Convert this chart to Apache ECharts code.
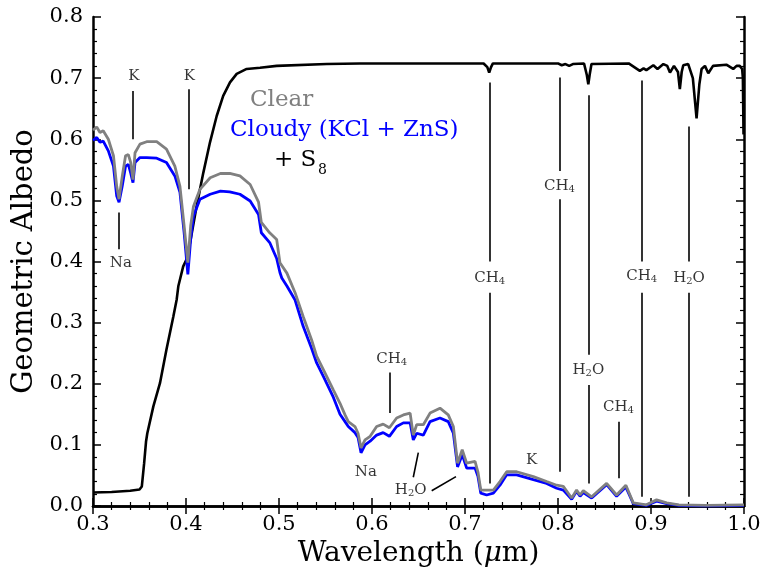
<!DOCTYPE html>
<html>
<head>
<meta charset="utf-8">
<script src="https://cdn.jsdelivr.net/npm/echarts@6/dist/echarts.min.js"></script>
<style>html,body{margin:0;padding:0;background:#fff}#c{width:767px;height:573px}</style>
</head>
<body>
<div id="c"></div>
<script>
// ---- data ----
var waveCloud = [0.300,0.304,0.3075,0.311,0.3165,0.322,0.3255,0.328,0.3315,0.335,0.338,0.3405,0.343,0.3452,0.3505,0.3577,0.3685,0.379,0.388,0.3935,0.398,0.402,0.405,0.408,0.415,0.426,0.437,0.447,0.458,0.469,0.478,0.481,0.490,0.4975,0.501,0.503,0.5085,0.5173,0.526,0.535,0.5405,0.5477,0.5584,0.5656,0.571,0.5745,0.5817,0.585,0.5882,0.5925,0.598,0.605,0.612,0.6187,0.6265,0.6337,0.641,0.6444,0.648,0.6552,0.6624,0.6731,0.682,0.6875,0.692,0.697,0.7018,0.7108,0.714,0.717,0.7233,0.7305,0.7376,0.7448,0.7556,0.7735,0.7878,0.7986,0.8057,0.8147,0.820,0.8237,0.8272,0.8362,0.8523,0.863,0.873,0.881,0.8828,0.895,0.906,0.9168,0.930,0.960,1.000];
var albedoClear = [0.615,0.620,0.611,0.614,0.600,0.573,0.523,0.502,0.540,0.573,0.575,0.562,0.534,0.578,0.592,0.596,0.596,0.584,0.556,0.523,0.458,0.398,0.458,0.490,0.518,0.537,0.544,0.544,0.540,0.526,0.497,0.464,0.447,0.436,0.398,0.395,0.381,0.349,0.310,0.272,0.245,0.223,0.190,0.168,0.149,0.138,0.130,0.119,0.095,0.108,0.114,0.130,0.134,0.128,0.144,0.149,0.152,0.116,0.133,0.133,0.152,0.160,0.149,0.130,0.070,0.092,0.070,0.073,0.055,0.026,0.026,0.026,0.040,0.056,0.056,0.048,0.040,0.034,0.032,0.013,0.026,0.018,0.025,0.015,0.037,0.018,0.034,0.005,0.002,0.002,0.010,0.005,0.002,0.001,0.002];
var albedoCloudy = [0.598,0.603,0.595,0.597,0.581,0.556,0.507,0.497,0.524,0.556,0.559,0.545,0.529,0.562,0.570,0.570,0.569,0.562,0.540,0.513,0.447,0.379,0.436,0.474,0.502,0.510,0.515,0.514,0.510,0.499,0.477,0.447,0.431,0.405,0.382,0.373,0.360,0.337,0.294,0.258,0.234,0.212,0.178,0.150,0.138,0.130,0.120,0.112,0.087,0.100,0.106,0.116,0.120,0.114,0.130,0.136,0.136,0.108,0.119,0.116,0.138,0.144,0.138,0.119,0.064,0.084,0.062,0.062,0.048,0.021,0.018,0.021,0.034,0.051,0.051,0.043,0.037,0.029,0.026,0.011,0.024,0.016,0.022,0.013,0.035,0.016,0.031,0.004,0.001,0.001,0.008,0.004,0.001,0.000,0.001];

var waveS8 = [0.300,0.320,0.340,0.350,0.3525,0.355,0.357,0.3584,0.3649,0.372,0.379,0.3864,0.390,0.3918,0.397,0.401,0.405,0.4115,0.4186,0.4258,0.433,0.440,0.4473,0.4545,0.4652,0.4796,0.4975,0.5513,0.587,0.720,0.724,0.726,0.728,0.730,0.800,0.804,0.808,0.812,0.816,0.828,0.831,0.8326,0.834,0.836,0.876,0.882,0.888,0.892,0.895,0.9025,0.907,0.9133,0.9175,0.9204,0.9247,0.929,0.931,0.933,0.9347,0.940,0.945,0.949,0.952,0.9544,0.958,0.9616,0.9667,0.981,0.9884,0.992,0.9954,0.998,0.9988,0.9995];
var albedoS8 = [0.022,0.023,0.025,0.027,0.032,0.070,0.105,0.119,0.163,0.201,0.256,0.310,0.338,0.360,0.392,0.405,0.436,0.491,0.545,0.595,0.638,0.671,0.693,0.707,0.715,0.717,0.720,0.723,0.724,0.724,0.718,0.709,0.718,0.724,0.724,0.721,0.723,0.720,0.723,0.724,0.705,0.690,0.705,0.723,0.724,0.718,0.712,0.716,0.713,0.721,0.715,0.723,0.720,0.709,0.720,0.710,0.682,0.710,0.721,0.723,0.700,0.634,0.690,0.715,0.720,0.708,0.720,0.722,0.715,0.720,0.720,0.715,0.700,0.608];

// annotation segments: [w1, y1, w2, y2]
var annotSegments = [
  [0.328,0.480,0.328,0.420],
  [0.3427,0.679,0.3427,0.600],
  [0.4025,0.682,0.4025,0.518],
  [0.6187,0.2185,0.6187,0.152],
  [0.6498,0.0874,0.6444,0.047],
  [0.6642,0.025,0.6903,0.048],
  [0.727,0.693,0.727,0.400],[0.727,0.349,0.727,0.037],
  [0.802,0.701,0.802,0.548],[0.802,0.502,0.802,0.056],
  [0.8326,0.672,0.8326,0.2475],[0.8326,0.198,0.8326,0.037],
  [0.865,0.138,0.865,0.0455],
  [0.890,0.696,0.890,0.400],[0.890,0.349,0.890,0.015],
  [0.941,0.621,0.941,0.400],[0.941,0.349,0.941,0.015]
];
// annotation labels: [w, y, text]
var annotLabels = [
  [0.330,0.398,'Na'],[0.3440,0.703,'K'],[0.4035,0.703,'K'],
  [0.6212,0.240,'CH4'],[0.5934,0.056,'Na'],[0.6416,0.026,'H2O'],
  [0.7266,0.373,'CH4'],[0.8016,0.523,'CH4'],[0.8326,0.222,'H2O'],
  [0.8650,0.162,'CH4'],[0.8900,0.376,'CH4'],[0.9409,0.373,'H2O'],
  [0.7717,0.075,'K']
];
var xTicks = [0.3,1.0,0.1];
var yTicks = [0.0,0.8,0.1];
var legendTexts = ['Clear','Cloudy (KCl + ZnS)','+ S','8'];

function zip(xs, ys){ return xs.map(function(x,i){ return [x, ys[i]]; }); }
var FONT = 'DejaVu Serif';

var chart = echarts.init(document.getElementById('c'), null, {renderer:'canvas'});

var axisCommon = {
  type:'value',
  splitLine:{show:false},
  axisLine:{show:true, lineStyle:{color:'#000', width:2.5}},
  axisTick:{show:true, inside:true, length:8, lineStyle:{color:'#000', width:1.5}},
  minorTick:{show:true, splitNumber:5, length:4, lineStyle:{color:'#000', width:1.2}},
  minorSplitLine:{show:false}
};
function ax(extra){ return Object.assign({}, JSON.parse(JSON.stringify(axisCommon)), extra); }

var option = {
  animation:false,
  backgroundColor:'#fff',
  grid:{left:93, right:23, top:17, bottom:67, containLabel:false, outerBoundsMode:'none'},
  xAxis:[
    ax({min:xTicks[0], max:xTicks[1], interval:xTicks[2], position:'bottom',
      axisLabel:{show:true, margin:8, color:'#000', fontFamily:FONT, fontSize:21,
        formatter:function(v){ return v.toFixed(1); }},
      name:'Wavelength ({i|μ}m)', nameLocation:'middle', nameGap:29,
      nameTextStyle:{color:'#000', fontFamily:FONT, fontSize:28,
        rich:{i:{fontStyle:'italic', fontFamily:FONT, fontSize:28, color:'#000'}}}}),
    ax({min:xTicks[0], max:xTicks[1], interval:xTicks[2], position:'top', axisLabel:{show:false}})
  ],
  yAxis:[
    ax({min:yTicks[0], max:yTicks[1], interval:yTicks[2], position:'left',
      axisLabel:{show:true, margin:10, color:'#000', fontFamily:FONT, fontSize:21,
        formatter:function(v){ return v.toFixed(1); }},
      name:'Geometric Albedo', nameLocation:'middle', nameGap:53,
      nameTextStyle:{color:'#000', fontFamily:FONT, fontSize:29}}),
    ax({min:yTicks[0], max:yTicks[1], interval:yTicks[2], position:'right', axisLabel:{show:false}})
  ],
  series:[
    {type:'line', name:'S8', data:zip(waveS8, albedoS8), showSymbol:false, symbol:'none',
      lineStyle:{color:'#000', width:2.6}, z:3},
    {type:'line', name:'Cloudy', data:zip(waveCloud, albedoCloudy), showSymbol:false, symbol:'none',
      lineStyle:{color:'#0000ff', width:2.8}, z:4},
    {type:'line', name:'Clear', data:zip(waveCloud, albedoClear), showSymbol:false, symbol:'none',
      lineStyle:{color:'#808080', width:2.8}, z:5},
    {type:'line', name:'annot', data:[], silent:true, z:6,
      markLine:{silent:true, symbol:['none','none'], animation:false,
        label:{show:false},
        lineStyle:{color:'#000', width:1.6, type:'solid'},
        data:annotSegments.map(function(s){ return [{coord:[s[0],s[1]]},{coord:[s[2],s[3]]}]; })}},
    {type:'scatter', name:'labels', symbolSize:0, silent:true, z:7,
      data:annotLabels.map(function(l){ return {value:[l[0],l[1]], name:l[2]}; }),
      label:{show:true, position:'inside', color:'#000', fontFamily:FONT, fontSize:15,
        formatter:function(p){ return p.name.replace(/(\d)/g,'{s|$1}'); },
        rich:{s:{fontSize:10, fontFamily:FONT, color:'#000', padding:[7,0,0,0]}}}}
  ],
  graphic:[
    {type:'text', left:250, top:89, style:{text:legendTexts[0], fill:'#808080', font:'23px "DejaVu Serif"'}},
    {type:'text', left:230, top:119, style:{text:legendTexts[1], fill:'#0000ff', font:'23px "DejaVu Serif"'}},
    {type:'text', left:274, top:149, style:{text:legendTexts[2], fill:'#000', font:'23px "DejaVu Serif"'}},
    {type:'text', left:318, top:163, style:{text:legendTexts[3], fill:'#000', font:'14px "DejaVu Serif"'}}
  ]
};
chart.setOption(option);
</script>
</body>
</html>
